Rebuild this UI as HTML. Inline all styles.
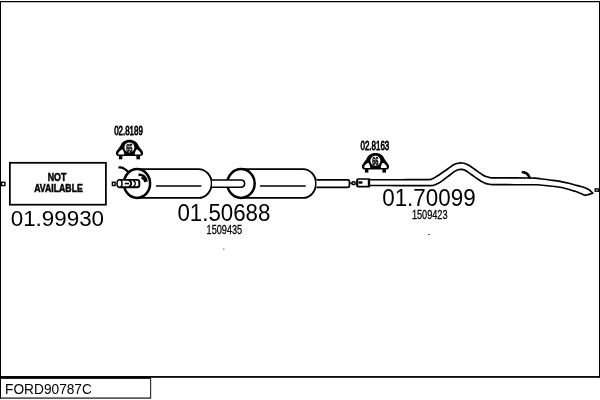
<!DOCTYPE html>
<html><head><meta charset="utf-8">
<style>
html,body{margin:0;padding:0;background:#fff;}
svg{display:block;}
text{font-family:"Liberation Sans",Arial,sans-serif;fill:#000;}
</style></head>
<body>
<svg width="600" height="400" viewBox="0 0 600 400" style="will-change:transform">
<rect x="0" y="0" width="600" height="400" fill="#fff"/>
<!-- frame -->
<rect x="0" y="1" width="1" height="398" fill="#000"/>
<rect x="0" y="1" width="600" height="1.25" fill="#000"/>
<rect x="599" y="1" width="1" height="377" fill="#000"/>
<rect x="0" y="376.05" width="600" height="1.75" fill="#000"/>
<rect x="0" y="376.5" width="151" height="2.35" fill="#000"/>
<!-- bottom label box -->
<rect x="0" y="397.4" width="151" height="1.4" fill="#333"/>
<rect x="150" y="378" width="1.2" height="20.5" fill="#333"/>
<text x="5.1" y="393.9" font-size="14.2" textLength="86.8" lengthAdjust="spacingAndGlyphs">FORD90787C</text>

<!-- NOT AVAILABLE box -->
<rect x="9.85" y="162.8" width="96.05" height="41.9" fill="#fff" stroke="#000" stroke-width="1.75"/>
<rect x="1.5" y="182.3" width="3.4" height="3.3" fill="#fff" stroke="#000" stroke-width="1.4"/>
<g stroke="#000" stroke-width="0.5" font-weight="bold" font-size="10.1" text-anchor="middle">
<text x="57" y="180.5" textLength="18.6" lengthAdjust="spacingAndGlyphs">NOT</text>
<text x="58.5" y="191.5" textLength="48.6" lengthAdjust="spacingAndGlyphs">AVAILABLE</text>
</g>
<text x="10.7" y="225.8" font-size="22.8" textLength="93.4" lengthAdjust="spacingAndGlyphs">01.99930</text>



<!-- hanger 1 -->
<text x="114.2" y="135.2" font-size="12.3" textLength="28.6" lengthAdjust="spacingAndGlyphs" stroke="#000" stroke-width="0.8">02.8189</text>
<g transform="translate(129.5,147.6)">
<path d="M0,-7.9 C4.5,-7.9 7.4,-5.6 8.6,-2.8 C9.4,-1 11,1 12.6,3 C13.6,4.2 13.7,5.5 13.5,6.5 C13.2,8 12,8.5 10.5,8.5 L-10.5,8.5 C-12,8.5 -13.2,8 -13.5,6.5 C-13.7,5.5 -13.6,4.2 -12.6,3 C-11,1 -9.4,-1 -8.6,-2.8 C-7.4,-5.6 -4.5,-7.9 0,-7.9 Z" fill="#000"/>
<path d="M-11.3,5.8 C-11,4.6 -9.5,3.2 -7.9,2.2 C-7.2,1.8 -6.6,2 -6.3,2.8 C-5.8,4.2 -5.3,5.6 -5.2,7 L-10.3,7 C-11.2,7 -11.5,6.6 -11.3,5.8 Z" fill="#fff"/>
<path d="M11.3,5.8 C11,4.6 9.5,3.2 7.9,2.2 C7.2,1.8 6.6,2 6.3,2.8 C5.8,4.2 5.3,5.6 5.2,7 L10.3,7 C11.2,7 11.5,6.6 11.3,5.8 Z" fill="#fff"/>
<circle cx="-0.1" cy="-0.2" r="5.75" fill="#fff" stroke="#000" stroke-width="1.5"/>
<rect x="-10.6" y="8.2" width="3.5" height="3.5" fill="#000"/>
<rect x="6.9" y="8.2" width="3.6" height="3.5" fill="#000"/>
<text x="-0.2" y="3.9" font-size="11.2" font-weight="bold" text-anchor="middle" textLength="6.3" lengthAdjust="spacingAndGlyphs" stroke="#000" stroke-width="0.55">65</text>
</g>

<!-- muffler 1 -->
<g fill="#fff" stroke="#000" stroke-width="1.9">
<path d="M137,169.1 L198.5,169.1 C206,169.1 211.7,176 211.7,183.5 C211.7,191 206,197.9 198.5,197.9 L137,197.9"/>
<ellipse cx="137" cy="183.5" rx="13.1" ry="14.4" stroke-width="2.5"/>
<path d="M138.5,174.9 C142.6,174.4 146,176.6 146.6,181.6" fill="none" stroke-width="2.5"/>
<path d="M141.5,177.7 C143.6,178.2 145,179.8 145.3,182.2" fill="none" stroke-width="2.1"/>
<line x1="156" y1="186" x2="201.4" y2="186" stroke-width="1.7"/>
<!-- inlet pipe -->
<path d="M137,179.9 L119.5,179.9 L119.5,187.2 L137,187.2 C138.8,187.2 139.3,186.4 139.3,185.2 L139.3,181.9 C139.3,180.7 138.8,179.9 137,179.9 Z" stroke-width="1.9"/>
<ellipse cx="119.5" cy="183.55" rx="2.5" ry="3.75" stroke-width="1.5"/>
<path d="M128.6,180 C130.8,181 131.2,182.5 131.2,183.6 C131.2,184.7 130.8,186.2 128.6,187.2" fill="none" stroke-width="1.8"/>
<path d="M133,180.3 C135,181.2 135.4,182.6 135.4,183.6 C135.4,184.6 135,186 133,186.9" fill="none" stroke-width="1.3"/>
<line x1="124.8" y1="183.55" x2="129" y2="183.55" stroke-width="1.6"/>
<rect x="112.4" y="182.25" width="2.7" height="3.3" stroke-width="1.4"/>
<path d="M118.4,167.5 C121,167 123.5,167.8 125,169.2 L128.2,171.8" fill="none" stroke-width="2.2"/>
</g>

<!-- connecting pipe + muffler 2 -->
<g fill="#fff" stroke="#000" stroke-width="1.9">
<path d="M241,169.1 L303,169.1 C310.5,169.1 316,176 316,183.5 C316,191 310.5,197.9 303,197.9 L241,197.9"/>
<ellipse cx="241" cy="183.5" rx="13.7" ry="14.4" stroke-width="2.5"/>
<path d="M212,180 L241,180 C243.6,180 244.6,182 244.6,183.6 C244.6,185.2 243.6,187.2 241,187.2 L212,187.2" stroke-width="1.6"/>
<line x1="260" y1="186" x2="305.7" y2="186" stroke-width="1.7"/>
<!-- outlet pipe -->
<path d="M316.5,179.9 L347.6,179.9 C348.9,179.9 349.4,180.6 349.4,181.6 L349.4,185.6 C349.4,186.7 348.9,187.3 347.6,187.3 L316.5,187.3" stroke-width="1.7"/>
<line x1="349.5" y1="183.1" x2="352" y2="183.1" stroke-width="1.3"/>
<rect x="352.1" y="181.75" width="3" height="2.8" rx="0.9" stroke-width="1.5"/>
</g>

<!-- tail pipe -->
<g fill="none" stroke="#000" stroke-width="1.65" stroke-linejoin="round" stroke-linecap="butt">
<path d="M369.00,179.75 C374.17,179.74 390.17,179.72 400.00,179.70 C409.83,179.67 422.75,179.70 428.00,179.60 C433.25,179.50 430.50,179.37 431.50,179.10 C432.50,178.83 433.25,178.38 434.00,178.00 C434.75,177.62 435.00,177.43 436.00,176.80 C437.00,176.17 438.67,175.08 440.00,174.20 C441.33,173.32 442.67,172.42 444.00,171.50 C445.33,170.58 446.83,169.52 448.00,168.70 C449.17,167.88 450.00,167.28 451.00,166.60 C452.00,165.92 452.83,165.17 454.00,164.60 C455.17,164.03 456.67,163.47 458.00,163.20 C459.33,162.93 460.67,162.87 462.00,163.00 C463.33,163.13 464.67,163.50 466.00,164.00 C467.33,164.50 468.67,165.20 470.00,166.00 C471.33,166.80 472.67,167.87 474.00,168.80 C475.33,169.73 476.67,170.67 478.00,171.60 C479.33,172.53 480.67,173.57 482.00,174.40 C483.33,175.23 484.67,176.07 486.00,176.60 C487.33,177.13 488.67,177.38 490.00,177.60 C491.33,177.82 489.83,177.85 494.00,177.90 C498.17,177.95 509.00,177.89 515.00,177.90 C521.00,177.91 526.50,177.90 530.00,177.95 C533.50,178.00 534.33,178.07 536.00,178.20 C537.67,178.32 537.67,178.40 540.00,178.70 C542.33,179.00 546.67,179.56 550.00,180.00 C553.33,180.44 556.67,180.77 560.00,181.35 C563.33,181.93 567.50,182.89 570.00,183.50 C572.50,184.11 573.33,184.54 575.00,185.00 C576.67,185.46 578.33,185.78 580.00,186.25 C581.67,186.72 583.50,187.27 585.00,187.85 C586.50,188.43 588.00,189.14 589.00,189.75 C590.00,190.36 590.38,190.92 591.00,191.50 C591.62,192.08 592.46,192.96 592.75,193.25 L592.75,193.25 L589,194.4 L585.5,195.3 L585.50,195.30 C585.17,195.20 584.42,195.05 583.50,194.70 C582.58,194.35 581.42,193.77 580.00,193.20 C578.58,192.63 576.67,191.88 575.00,191.30 C573.33,190.73 572.50,190.42 570.00,189.75 C567.50,189.08 563.33,187.93 560.00,187.30 C556.67,186.68 553.33,186.39 550.00,186.00 C546.67,185.61 542.33,185.16 540.00,184.95 C537.67,184.74 537.67,184.79 536.00,184.75 C534.33,184.71 533.50,184.71 530.00,184.70 C526.50,184.69 521.00,184.72 515.00,184.70 C509.00,184.68 498.17,184.67 494.00,184.60 C489.83,184.53 491.33,184.47 490.00,184.30 C488.67,184.13 487.33,184.02 486.00,183.60 C484.67,183.18 483.33,182.53 482.00,181.80 C480.67,181.07 479.33,180.10 478.00,179.20 C476.67,178.30 475.33,177.33 474.00,176.40 C472.67,175.47 471.33,174.53 470.00,173.60 C468.67,172.67 467.33,171.50 466.00,170.80 C464.67,170.10 463.33,169.58 462.00,169.40 C460.67,169.22 459.33,169.30 458.00,169.70 C456.67,170.10 455.00,171.18 454.00,171.80 C453.00,172.42 453.00,172.63 452.00,173.40 C451.00,174.17 449.33,175.40 448.00,176.40 C446.67,177.40 445.33,178.40 444.00,179.40 C442.67,180.40 441.33,181.57 440.00,182.40 C438.67,183.23 437.08,183.92 436.00,184.40 C434.92,184.88 434.50,185.10 433.50,185.30 C432.50,185.50 435.58,185.56 430.00,185.60 C424.42,185.64 410.17,185.57 400.00,185.55 C389.83,185.53 374.17,185.51 369.00,185.50 Z" fill="#fff" stroke="none"/>
<path d="M369.00,179.75 C374.17,179.74 390.17,179.72 400.00,179.70 C409.83,179.67 422.75,179.70 428.00,179.60 C433.25,179.50 430.50,179.37 431.50,179.10 C432.50,178.83 433.25,178.38 434.00,178.00 C434.75,177.62 435.00,177.43 436.00,176.80 C437.00,176.17 438.67,175.08 440.00,174.20 C441.33,173.32 442.67,172.42 444.00,171.50 C445.33,170.58 446.83,169.52 448.00,168.70 C449.17,167.88 450.00,167.28 451.00,166.60 C452.00,165.92 452.83,165.17 454.00,164.60 C455.17,164.03 456.67,163.47 458.00,163.20 C459.33,162.93 460.67,162.87 462.00,163.00 C463.33,163.13 464.67,163.50 466.00,164.00 C467.33,164.50 468.67,165.20 470.00,166.00 C471.33,166.80 472.67,167.87 474.00,168.80 C475.33,169.73 476.67,170.67 478.00,171.60 C479.33,172.53 480.67,173.57 482.00,174.40 C483.33,175.23 484.67,176.07 486.00,176.60 C487.33,177.13 488.67,177.38 490.00,177.60 C491.33,177.82 489.83,177.85 494.00,177.90 C498.17,177.95 509.00,177.89 515.00,177.90 C521.00,177.91 526.50,177.90 530.00,177.95 C533.50,178.00 534.33,178.07 536.00,178.20 C537.67,178.32 537.67,178.40 540.00,178.70 C542.33,179.00 546.67,179.56 550.00,180.00 C553.33,180.44 556.67,180.77 560.00,181.35 C563.33,181.93 567.50,182.89 570.00,183.50 C572.50,184.11 573.33,184.54 575.00,185.00 C576.67,185.46 578.33,185.78 580.00,186.25 C581.67,186.72 583.50,187.27 585.00,187.85 C586.50,188.43 588.00,189.14 589.00,189.75 C590.00,190.36 590.38,190.92 591.00,191.50 C591.62,192.08 592.46,192.96 592.75,193.25"/>
<path d="M369.00,185.50 C374.17,185.51 389.83,185.53 400.00,185.55 C410.17,185.57 424.42,185.64 430.00,185.60 C435.58,185.56 432.50,185.50 433.50,185.30 C434.50,185.10 434.92,184.88 436.00,184.40 C437.08,183.92 438.67,183.23 440.00,182.40 C441.33,181.57 442.67,180.40 444.00,179.40 C445.33,178.40 446.67,177.40 448.00,176.40 C449.33,175.40 451.00,174.17 452.00,173.40 C453.00,172.63 453.00,172.42 454.00,171.80 C455.00,171.18 456.67,170.10 458.00,169.70 C459.33,169.30 460.67,169.22 462.00,169.40 C463.33,169.58 464.67,170.10 466.00,170.80 C467.33,171.50 468.67,172.67 470.00,173.60 C471.33,174.53 472.67,175.47 474.00,176.40 C475.33,177.33 476.67,178.30 478.00,179.20 C479.33,180.10 480.67,181.07 482.00,181.80 C483.33,182.53 484.67,183.18 486.00,183.60 C487.33,184.02 488.67,184.13 490.00,184.30 C491.33,184.47 489.83,184.53 494.00,184.60 C498.17,184.67 509.00,184.68 515.00,184.70 C521.00,184.72 526.50,184.69 530.00,184.70 C533.50,184.71 534.33,184.71 536.00,184.75 C537.67,184.79 537.67,184.74 540.00,184.95 C542.33,185.16 546.67,185.61 550.00,186.00 C553.33,186.39 556.67,186.68 560.00,187.30 C563.33,187.93 567.50,189.08 570.00,189.75 C572.50,190.42 573.33,190.73 575.00,191.30 C576.67,191.88 578.58,192.63 580.00,193.20 C581.42,193.77 582.58,194.35 583.50,194.70 C584.42,195.05 585.17,195.20 585.50,195.30"/>
<path d="M585.5,195.3 L589,194.4 L592.75,193.25" stroke-linecap="round"/>
<path d="M522.8,172.2 C525.5,172.4 527.3,173.6 528.2,175 L529.6,177.6" stroke-width="2.6" stroke-linecap="round"/>
</g>
<rect x="357.1" y="179" width="11.5" height="7.65" rx="1" fill="#fff" stroke="#000" stroke-width="1.6"/>
<line x1="369.2" y1="178.3" x2="369.2" y2="187.4" stroke="#000" stroke-width="1.9"/>
<line x1="357.3" y1="179.5" x2="357.3" y2="186.2" stroke="#000" stroke-width="1.9"/>
<line x1="359.6" y1="182.6" x2="361.4" y2="182.6" stroke="#000" stroke-width="2.5" stroke-linecap="round"/>
<rect x="595.2" y="188.9" width="3.4" height="2.3" fill="#fff" stroke="#000" stroke-width="1.35"/>

<!-- hanger 2 -->
<text x="360.5" y="150.1" font-size="12.3" textLength="28.8" lengthAdjust="spacingAndGlyphs" stroke="#000" stroke-width="0.8">02.8163</text>
<g transform="translate(375.5,160.9)">
<path d="M0,-7.9 C4.5,-7.9 7.4,-5.6 8.6,-2.8 C9.4,-1 11,1 12.6,3 C13.6,4.2 13.7,5.5 13.5,6.5 C13.2,8 12,8.5 10.5,8.5 L-10.5,8.5 C-12,8.5 -13.2,8 -13.5,6.5 C-13.7,5.5 -13.6,4.2 -12.6,3 C-11,1 -9.4,-1 -8.6,-2.8 C-7.4,-5.6 -4.5,-7.9 0,-7.9 Z" fill="#000"/>
<path d="M-11.3,5.8 C-11,4.6 -9.5,3.2 -7.9,2.2 C-7.2,1.8 -6.6,2 -6.3,2.8 C-5.8,4.2 -5.3,5.6 -5.2,7 L-10.3,7 C-11.2,7 -11.5,6.6 -11.3,5.8 Z" fill="#fff"/>
<path d="M11.3,5.8 C11,4.6 9.5,3.2 7.9,2.2 C7.2,1.8 6.6,2 6.3,2.8 C5.8,4.2 5.3,5.6 5.2,7 L10.3,7 C11.2,7 11.5,6.6 11.3,5.8 Z" fill="#fff"/>
<circle cx="-0.1" cy="-0.2" r="5.75" fill="#fff" stroke="#000" stroke-width="1.5"/>
<rect x="-10.6" y="8.2" width="3.5" height="3.5" fill="#000"/>
<rect x="6.9" y="8.2" width="3.6" height="3.5" fill="#000"/>
<text x="-0.2" y="3.9" font-size="11.2" font-weight="bold" text-anchor="middle" textLength="6.3" lengthAdjust="spacingAndGlyphs" stroke="#000" stroke-width="0.55">66</text>
</g>

<!-- labels -->
<text x="177.4" y="221.3" font-size="23" textLength="93" lengthAdjust="spacingAndGlyphs">01.50688</text>
<text x="206.6" y="233.6" font-size="12.8" textLength="35.6" lengthAdjust="spacingAndGlyphs" stroke="#000" stroke-width="0.3">1509435</text>
<rect x="223.2" y="248.5" width="1.2" height="1.1" fill="#555"/>
<text x="382.2" y="206.4" font-size="23" textLength="93.4" lengthAdjust="spacingAndGlyphs">01.70099</text>
<text x="411.9" y="218.8" font-size="12.8" textLength="35.6" lengthAdjust="spacingAndGlyphs" stroke="#000" stroke-width="0.3">1509423</text>
<rect x="428.1" y="234" width="1.9" height="1" fill="#555"/>
</svg>
</body></html>
